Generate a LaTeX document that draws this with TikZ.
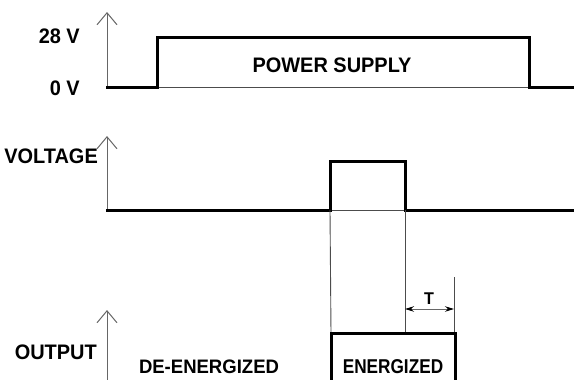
\documentclass[tikz,border=0pt]{standalone}
\usepackage{fontspec}
\setmainfont{Liberation Sans}
\newfontfamily\labA[FakeStretch=0.95]{Liberation Sans}
\newfontfamily\labB[FakeStretch=0.86]{Liberation Sans}
\usetikzlibrary{arrows.meta}
\begin{document}
\begin{tikzpicture}[x=1pt,y=-1pt,
  sig/.style={line width=3pt,line join=miter,line cap=rect},
  thin/.style={line width=0.9pt,black!70},
  axis/.style={line width=1pt,black!60,-{Straight Barb[length=12pt,width=20pt,line width=1pt]}},
  lbl/.style={inner sep=0pt,font=\labA\fontsize{21}{21}\selectfont\bfseries},
  dim/.style={line width=1pt,black!60,{Stealth[length=9pt,width=5.5pt,black]}-{Stealth[length=9pt,width=5.5pt,black]}}]
\useasboundingbox (0,0) rectangle (574,380);
% top section
\coordinate (a0) at (107,87);
\coordinate (a0t) at (107,12);
\coordinate (p1) at (157,87);
\coordinate (p2) at (157,37);
\coordinate (p3) at (529,37);
\coordinate (p4) at (529,87);
\coordinate (p5) at (576,87);
\draw[axis] (a0) -- (a0t);
\draw[thin] (p1) -- (p4);
\draw[sig] (a0) -- (p1) -- (p2) -- (p3) -- (p4) -- (p5);
\node[lbl,anchor=east] (v28) at (80,36) {28 V};
\node[lbl,anchor=east] (v0) at (80,88) {0 V};
\node[lbl] (ps) at (332,65) {POWER SUPPLY};
% middle section
\coordinate (b0) at (107,210);
\coordinate (b0t) at (107,136);
\coordinate (q1) at (330,210);
\coordinate (q2) at (330,161);
\coordinate (q3) at (405,161);
\coordinate (q4) at (405,210);
\coordinate (q5) at (576,210);
\draw[axis] (b0) -- (b0t);
\draw[thin] (q1) -- (q4);
\draw[sig] (b0) -- (q1) -- (q2) -- (q3) -- (q4) -- (q5);
\node[lbl,anchor=east] (volt) at (98,156) {VOLTAGE};
% bottom section
\coordinate (c0) at (107,382);
\coordinate (c0t) at (107,310);
\coordinate (r1) at (331,382);
\coordinate (r2) at (331,333);
\coordinate (r3) at (455,333);
\coordinate (r4) at (455,382);
\coordinate (e1) at (405,333);
\coordinate (e2) at (454,277);
\coordinate (e3) at (454,333);
\draw[axis] (c0) -- (c0t);
\draw[thin] (q1) -- (r2);
\draw[thin] (q4) -- (e1);
\draw[thin] (e2) -- (e3);
\coordinate (d1) at (405,309);
\coordinate (d2) at (454,309);
\draw[dim] (d1) -- (d2);
\node[inner sep=0pt,font=\labA\fontsize{17}{17}\selectfont\bfseries] (T) at (429,299) {T};
\draw[sig,line cap=butt] (r1) -- (r2) -- (r3) -- (r4);
\node[lbl,anchor=east] (out) at (97,352) {OUTPUT};
\node[lbl,font=\labA\fontsize{19.5}{19.5}\selectfont\bfseries] (de) at (209,367) {DE-ENERGIZED};
\node[lbl,font=\labB\fontsize{20}{20}\selectfont\bfseries] (en) at (393,367) {ENERGIZED};
\end{tikzpicture}
\end{document}
